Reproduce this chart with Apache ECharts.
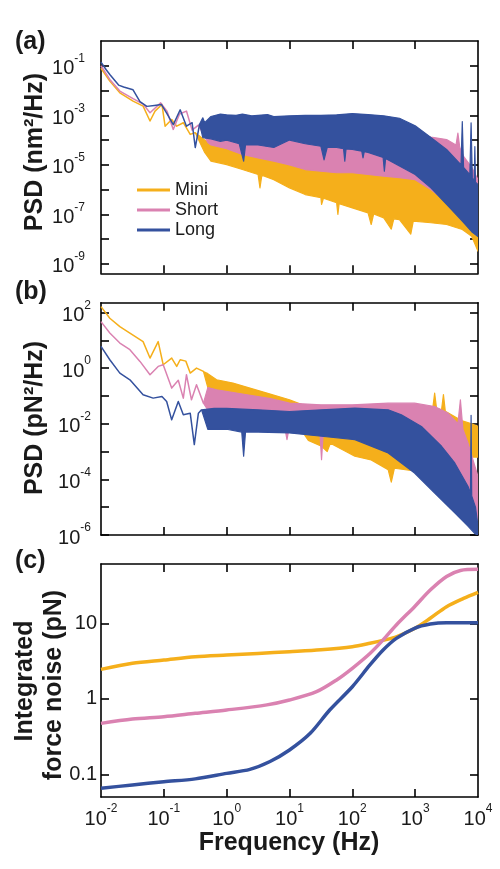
<!DOCTYPE html>
<html><head><meta charset="utf-8">
<script src="https://cdn.jsdelivr.net/npm/echarts@6/dist/echarts.min.js"></script>
<style>html,body{margin:0;padding:0;background:#fff}#c{width:500px;height:869px}</style>
</head><body><div id="c"></div><script>
// All values are [log10(frequency / Hz), log10(value)].
const X_TICKS = [-2, -1, 0, 1, 2, 3, 4];
const Y_TICKS_A = [-9, -8, -7, -6, -5, -4, -3, -2, -1];
const Y_LABELS_A = [-9, -7, -5, -3, -1];
const Y_TICKS_B = [-6, -5, -4, -3, -2, -1, 0, 1, 2];
const Y_LABELS_B = [-6, -4, -2, 0, 2];
const Y_TICKS_C = [-1, 0, 1];
const NAMES = ['Mini', 'Short', 'Long'];

// Panel (a) PSD (nm^2/Hz)
const MINI_A_LINE = [[-2.0,-1.1],[-1.86,-1.62],[-1.7,-2.09],[-1.49,-2.43],[-1.33,-2.63],[-1.22,-3.23],[-1.14,-2.83],[-1.03,-2.56],[-0.98,-3.44],[-0.875,-3.17],[-0.795,-3.44],[-0.69,-3.3],[-0.58,-3.77],[-0.5,-3.7]];
const MINI_A_HI = [[-0.5,-3.7],[-0.3,-4.1],[-0.25,-4.15],[0,-4.35],[0.25,-4.55],[0.5,-4.7],[0.75,-4.85],[1,-5.0],[1.5,-5.2],[2,-5.3],[2.5,-5.4],[3.0,-5.5],[3.25,-5.85],[3.5,-6.45],[3.75,-7.15],[4.0,-7.9]];
const MINI_A_LO = [[-0.5,-3.7],[-0.35,-4.5],[-0.25,-4.85],[0,-4.99],[0.25,-5.19],[0.5,-5.39],[0.53,-5.93],[0.56,-5.42],[0.75,-5.6],[1.0,-5.93],[1.25,-6.2],[1.5,-6.33],[1.51,-6.6],[1.54,-6.35],[1.75,-6.53],[1.77,-7.0],[1.79,-6.57],[2.0,-6.74],[2.25,-6.94],[2.3,-7.41],[2.34,-6.98],[2.5,-7.14],[2.62,-7.6],[2.66,-7.18],[2.75,-7.21],[2.93,-7.8],[2.97,-7.27],[3.25,-7.34],[3.5,-7.41],[3.75,-7.61],[3.9,-7.88],[4.0,-8.49]];
const SHORT_A_LINE = [[-2.0,-1.0],[-1.86,-1.55],[-1.7,-2.02],[-1.49,-2.33],[-1.33,-2.55],[-1.22,-2.9],[-1.05,-2.5],[-0.95,-2.83],[-0.85,-3.57],[-0.75,-2.95],[-0.64,-2.83],[-0.55,-3.6],[-0.45,-3.4]];
const SHORT_A_HI = [[-0.45,-3.4],[-0.3,-3.3],[0,-3.3],[0.5,-3.3],[1,-3.3],[1.5,-3.3],[2,-3.3],[2.5,-3.35],[3.0,-3.7],[3.25,-3.88],[3.5,-3.98],[3.65,-4.2],[3.68,-3.72],[3.71,-4.3],[3.77,-4.66],[3.9,-5.1],[4.0,-5.6]];
const SHORT_A_LO = [[-0.45,-3.4],[-0.3,-4.1],[-0.25,-4.2],[0,-4.35],[0.25,-4.58],[0.5,-4.72],[0.75,-4.85],[1.0,-5.0],[1.25,-5.19],[1.5,-5.26],[1.75,-5.32],[2.0,-5.32],[2.25,-5.39],[2.5,-5.46],[2.75,-5.52],[3.0,-5.6],[3.25,-6.0],[3.5,-6.5],[3.75,-7.0],[4.0,-7.6]];
const LONG_A_LINE = [[-2.0,-0.85],[-1.92,-1.15],[-1.86,-1.35],[-1.72,-1.78],[-1.64,-1.86],[-1.49,-1.97],[-1.38,-2.45],[-1.27,-2.64],[-1.15,-2.6],[-1.04,-2.56],[-0.955,-2.91],[-0.85,-3.38],[-0.74,-2.78],[-0.64,-3.44],[-0.55,-3.3],[-0.5,-4.3],[-0.43,-3.35]];
const LONG_A_HI = [[-0.43,-3.35],[-0.38,-3.1],[-0.35,-3.3],[-0.25,-3.05],[-0.1,-2.95],[0,-2.98],[0.15,-3.0],[0.25,-2.95],[0.4,-3.02],[0.5,-3.0],[0.65,-2.97],[0.75,-3.05],[1.0,-3.02],[1.25,-3.0],[1.5,-3.0],[1.75,-2.98],[2.0,-2.93],[2.25,-2.97],[2.5,-3.02],[2.75,-3.12],[3.0,-3.42],[3.25,-3.9],[3.5,-4.38],[3.73,-5.0],[3.75,-3.25],[3.77,-5.1],[3.87,-5.4],[3.89,-3.3],[3.91,-5.55],[3.94,-5.6],[3.95,-4.26],[3.96,-5.7],[4.0,-5.8]];
const LONG_A_LO = [[-0.43,-3.35],[-0.38,-3.9],[-0.25,-3.95],[-0.1,-4.05],[0,-4.0],[0.2,-4.15],[0.27,-4.85],[0.3,-4.2],[0.5,-4.2],[0.75,-4.3],[1.0,-4.0],[1.25,-4.15],[1.5,-4.25],[1.55,-4.8],[1.6,-4.3],[1.75,-4.3],[1.86,-4.35],[1.88,-4.85],[1.9,-4.36],[2.0,-4.38],[2.15,-4.45],[2.17,-4.72],[2.19,-4.47],[2.25,-4.5],[2.49,-4.7],[2.51,-5.26],[2.53,-4.74],[2.75,-5.05],[3.0,-5.39],[3.25,-5.93],[3.5,-6.6],[3.75,-7.27],[3.9,-7.7],[4.0,-7.9]];

// Panel (b) PSD (pN^2/Hz)
const MINI_B_LINE = [[-2.0,2.21],[-1.86,1.79],[-1.7,1.49],[-1.54,1.26],[-1.33,0.95],[-1.22,0.36],[-1.09,0.95],[-1.01,0.12],[-0.875,0.36],[-0.795,0.06],[-0.74,0.3],[-0.65,0.25],[-0.58,-0.18],[-0.48,0.0],[-0.37,-0.12]];
const MINI_B_HI = [[-0.37,-0.12],[-0.3,-0.2],[-0.16,-0.42],[0.1,-0.54],[0.37,-0.72],[0.64,-0.9],[1.0,-1.14],[1.24,-1.35],[1.5,-1.45],[2.0,-1.45],[2.5,-1.45],[3.0,-1.45],[3.28,-1.45],[3.31,-0.9],[3.34,-1.45],[3.42,-1.5],[3.45,-0.95],[3.48,-1.55],[3.75,-1.9],[3.9,-2.0],[4.0,-2.1]];
const MINI_B_LO = [[-0.37,-0.12],[-0.3,-0.7],[0,-0.9],[0.37,-1.2],[0.64,-1.35],[1.0,-1.6],[1.3,-2.6],[1.51,-2.81],[1.6,-3.0],[1.65,-2.7],[2.04,-3.17],[2.3,-3.3],[2.57,-3.65],[2.62,-4.1],[2.67,-3.6],[2.99,-3.7],[3.5,-4.0],[3.9,-3.2],[4.0,-3.2]];
const SHORT_B_LINE = [[-2.0,1.67],[-1.86,1.26],[-1.7,0.9],[-1.54,0.66],[-1.38,0.24],[-1.22,-0.24],[-1.09,0.06],[-1.01,0.12],[-0.875,-0.72],[-0.77,-0.44],[-0.69,-1.08],[-0.64,-0.24],[-0.56,-1.14],[-0.48,-0.6],[-0.37,-1.26]];
const SHORT_B_HI = [[-0.37,-1.26],[-0.3,-0.7],[-0.16,-0.78],[0.3,-0.95],[0.7,-1.1],[1.0,-1.26],[1.5,-1.32],[2.0,-1.32],[2.57,-1.26],[2.99,-1.26],[3.31,-1.38],[3.52,-1.62],[3.68,-2.0],[3.72,-1.14],[3.76,-2.2],[3.84,-2.69],[3.95,-3.53],[4.0,-3.9]];
const SHORT_B_LO = [[-0.37,-1.26],[-0.3,-1.5],[0,-1.8],[0.5,-2.0],[0.93,-2.2],[0.96,-2.57],[0.99,-2.2],[1.48,-2.15],[1.51,-3.29],[1.54,-2.2],[2.0,-2.3],[2.5,-2.7],[3.0,-3.4],[3.5,-4.5],[4.0,-5.5]];
const LONG_B_LINE = [[-2.0,0.78],[-1.86,0.3],[-1.7,-0.18],[-1.54,-0.42],[-1.33,-0.96],[-1.17,-1.08],[-1.03,-1.02],[-0.955,-1.2],[-0.875,-1.86],[-0.77,-1.2],[-0.69,-1.68],[-0.58,-1.62],[-0.515,-2.75],[-0.45,-1.62],[-0.4,-1.5]];
const LONG_B_HI = [[-0.4,-1.5],[-0.2,-1.45],[0,-1.45],[0.5,-1.5],[1.0,-1.56],[1.51,-1.5],[2.04,-1.44],[2.57,-1.5],[2.78,-1.68],[3.1,-2.1],[3.42,-2.81],[3.63,-3.41],[3.84,-4.25],[3.88,-4.5],[3.89,-1.7],[3.9,-4.6],[3.96,-5.0],[4.0,-5.68]];
const LONG_B_LO = [[-0.4,-1.5],[-0.3,-2.2],[0,-2.2],[0.24,-2.3],[0.27,-3.17],[0.3,-2.3],[0.5,-2.3],[1.0,-2.33],[1.51,-2.45],[2.04,-2.57],[2.57,-3.05],[2.99,-3.77],[3.31,-4.49],[3.63,-5.2],[3.84,-5.68],[3.95,-5.95],[4.0,-6.0]];

// Panel (c) integrated force noise (pN)
const MINI_C = [[-2.0,0.39],[-1.5,0.47],[-1.0,0.514],[-0.5,0.558],[0,0.58],[0.5,0.6],[1.0,0.624],[1.5,0.65],[2.0,0.69],[2.28,0.735],[2.52,0.78],[2.7,0.82],[2.99,0.93],[3.24,1.066],[3.5,1.22],[3.77,1.33],[4.0,1.41]];
const SHORT_C = [[-2.0,-0.325],[-1.5,-0.268],[-1.0,-0.237],[-0.5,-0.192],[0,-0.148],[0.64,-0.08],[1.0,-0.016],[1.43,0.094],[1.75,0.25],[2.0,0.404],[2.28,0.6],[2.49,0.78],[2.7,0.977],[2.99,1.22],[3.24,1.44],[3.5,1.62],[3.72,1.7],[4.0,1.715]];
const LONG_C = [[-2.0,-1.185],[-1.5,-1.14],[-1.0,-1.098],[-0.5,-1.06],[0,-0.987],[0.37,-0.934],[0.69,-0.83],[1.0,-0.678],[1.33,-0.457],[1.64,-0.148],[2.0,0.16],[2.28,0.448],[2.49,0.646],[2.7,0.8],[2.99,0.934],[3.24,0.99],[3.5,1.008],[4.0,1.008]];

const COLORS = {Mini: '#F5AF1B', Short: '#DA82B1', Long: '#34519E'};
const FONT = "'Liberation Sans', Arial, sans-serif";
const INK = '#1a1a1a';

const chart = echarts.init(document.getElementById('c'), null, {renderer: 'canvas'});

const supRich = {
  b: {fontSize: 20, fontFamily: FONT, color: INK, lineHeight: 26, verticalAlign: 'bottom'},
  s: {fontSize: 12, fontFamily: FONT, color: INK, lineHeight: 26, verticalAlign: 'top'}
};
const powFmt = v => '{b|10}{s|' + v + '}';

function xAx(gi, pos, labels) {
  return {
    type: 'value', gridIndex: gi, position: pos, min: -2, max: 4, interval: 1,
    axisLine: {show: true, onZero: false, lineStyle: {color: '#000', width: 1.6}},
    axisTick: {show: true, inside: true, length: 8, customValues: X_TICKS.slice(1, -1), lineStyle: {color: '#000', width: 1.6}},
    axisLabel: labels ? {show: true, margin: 6, customValues: X_TICKS, formatter: powFmt, rich: supRich} : {show: false},
    splitLine: {show: false}
  };
}
function yAx(gi, pos, min, max, ticks, labels, fmt, margin) {
  return {
    type: 'value', gridIndex: gi, position: pos, min: min, max: max,
    axisLine: {show: true, onZero: false, lineStyle: {color: '#000', width: 1.6}},
    axisTick: {show: true, inside: true, length: 8, customValues: ticks, lineStyle: {color: '#000', width: 1.6}},
    axisLabel: labels ? {show: true, margin: margin, customValues: labels, formatter: fmt,
      rich: supRich, fontSize: 20, fontFamily: FONT, color: INK} : {show: false},
    splitLine: {show: false}
  };
}

function lineSeries(name, data, gi, width, smooth) {
  return {type: 'line', name: name, xAxisIndex: gi * 2, yAxisIndex: gi * 2, data: data,
    showSymbol: false, smooth: smooth || false, color: COLORS[name],
    lineStyle: {width: width, color: COLORS[name], join: 'round'}, silent: true, z: 2};
}
function bandSeries(name, hi, lo, gi) {
  const col = COLORS[name];
  return {type: 'custom', name: name, xAxisIndex: gi * 2, yAxisIndex: gi * 2,
    coordinateSystem: 'cartesian2d', data: [[hi[0][0], hi[0][1]]], clip: true, silent: true, color: col, z: 2,
    renderItem: function (params, api) {
      const pts = hi.map(p => api.coord(p)).concat(lo.slice().reverse().map(p => api.coord(p)));
      return {type: 'polygon', shape: {points: pts},
        style: {fill: col, stroke: col, lineWidth: 1.2, lineJoin: 'round'}};
    }};
}

const grids = [
  {left: 101, right: 22, top: 41, height: 232.3},
  {left: 101, right: 22, top: 302.7, height: 232.3},
  {left: 101, right: 22, top: 564, height: 233}
];

const cFmt = v => ({'-1': '0.1', '0': '1', '1': '10'})[String(v)];

const option = {
  animation: false,
  backgroundColor: '#fff',
  grid: grids,
  xAxis: [xAx(0, 'bottom', false), xAx(0, 'top', false), xAx(1, 'bottom', false), xAx(1, 'top', false), xAx(2, 'bottom', true), xAx(2, 'top', false)],
  yAxis: [
    yAx(0, 'left', -9.38, 0, Y_TICKS_A, Y_LABELS_A, powFmt, 16), yAx(0, 'right', -9.38, 0, Y_TICKS_A, null),
    yAx(1, 'left', -6, 2.35, Y_TICKS_B, Y_LABELS_B, powFmt, 10), yAx(1, 'right', -6, 2.35, Y_TICKS_B, null),
    yAx(2, 'left', -1.3, 1.785, Y_TICKS_C, Y_TICKS_C, cFmt, 4), yAx(2, 'right', -1.3, 1.785, Y_TICKS_C, null)
  ],
  legend: {data: NAMES, orient: 'vertical', left: 132, top: 175, itemWidth: 33, itemHeight: 3, icon: 'rect', itemGap: 0,
    selectedMode: false, textStyle: {fontSize: 18, fontFamily: FONT, color: INK, lineHeight: 20, padding: [0, 0, 0, 0]}},
  series: [
    lineSeries('Mini', MINI_A_LINE, 0, 1.5), bandSeries('Mini', MINI_A_HI, MINI_A_LO, 0),
    lineSeries('Short', SHORT_A_LINE, 0, 1.5), bandSeries('Short', SHORT_A_HI, SHORT_A_LO, 0),
    lineSeries('Long', LONG_A_LINE, 0, 1.5), bandSeries('Long', LONG_A_HI, LONG_A_LO, 0),
    lineSeries('Mini', MINI_B_LINE, 1, 1.5), bandSeries('Mini', MINI_B_HI, MINI_B_LO, 1),
    lineSeries('Short', SHORT_B_LINE, 1, 1.5), bandSeries('Short', SHORT_B_HI, SHORT_B_LO, 1),
    lineSeries('Long', LONG_B_LINE, 1, 1.5), bandSeries('Long', LONG_B_HI, LONG_B_LO, 1),
    lineSeries('Mini', MINI_C, 2, 3.5, 0.3), lineSeries('Long', LONG_C, 2, 3.5, 0.3), lineSeries('Short', SHORT_C, 2, 3.5, 0.3)
  ],
  graphic: [
    {type: 'text', left: 15, top: 30, style: {text: '(a)', font: 'bold 25px ' + FONT, fill: INK}},
    {type: 'text', left: 15, top: 280, style: {text: '(b)', font: 'bold 25px ' + FONT, fill: INK}},
    {type: 'text', left: 15, top: 549, style: {text: '(c)', font: 'bold 25px ' + FONT, fill: INK}},
    {type: 'text', x: 35, y: 152, rotation: Math.PI / 2, style: {text: 'PSD (nm²/Hz)', font: 'bold 25px ' + FONT, fill: INK, align: 'center', verticalAlign: 'middle'}},
    {type: 'text', x: 35, y: 418, rotation: Math.PI / 2, style: {text: 'PSD (pN²/Hz)', font: 'bold 25px ' + FONT, fill: INK, align: 'center', verticalAlign: 'middle'}},
    {type: 'text', x: 25, y: 681, rotation: Math.PI / 2, style: {text: 'Integrated', font: 'bold 25px ' + FONT, fill: INK, align: 'center', verticalAlign: 'middle'}},
    {type: 'text', x: 54, y: 685, rotation: Math.PI / 2, style: {text: 'force noise (pN)', font: 'bold 25px ' + FONT, fill: INK, align: 'center', verticalAlign: 'middle'}},
    {type: 'text', x: 289, y: 843, style: {text: 'Frequency (Hz)', font: 'bold 25px ' + FONT, fill: INK, align: 'center', verticalAlign: 'middle'}}
  ]
};
chart.setOption(option);
</script></body></html>
